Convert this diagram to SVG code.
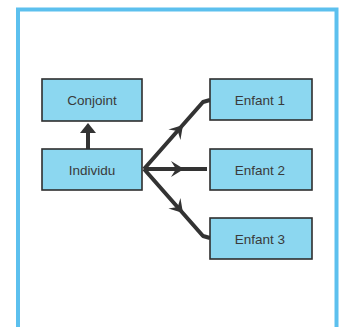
<svg xmlns="http://www.w3.org/2000/svg" width="346" height="327" viewBox="0 0 346 327">
<style>
.box{fill:#8cd7f0;stroke:#2e2e2e;stroke-width:1.6}
.lbl{font-family:"Liberation Sans",Arial,sans-serif;font-size:13.5px;fill:#3a3a3a;text-anchor:middle;dominant-baseline:central}
.ln{fill:none;stroke:#333;stroke-width:4;stroke-linejoin:round;stroke-linecap:butt}
.ah{fill:#333}
</style>
<defs>
<path id="barb" d="M0,0 L-13,-8 L-8,0 L-13,8 Z"/>
<path id="tri" d="M0,0 L-10,-8 L-10,8 Z"/>
</defs>
<rect x="18" y="9.5" width="318.5" height="340" fill="#fff" stroke="#5cc0ee" stroke-width="4"/>
<g id="connectors">
<line class="ln" x1="88" y1="149" x2="88" y2="130"/>
<use href="#tri" class="ah" transform="translate(88,123) rotate(-90)"/>
<polyline class="ln" points="144,169 203,102 210,100"/>
<use href="#barb" class="ah" transform="translate(183,125) rotate(-48.7)"/>
<polyline class="ln" points="144,169 207,169"/>
<use href="#barb" class="ah" transform="translate(184,169)"/>
<polyline class="ln" points="144,169 203,236 210,238"/>
<use href="#barb" class="ah" transform="translate(183,213) rotate(48.7)"/>
</g>
<g id="conjoint"><rect class="box" x="42" y="79" width="100" height="42"/><text class="lbl" x="92" y="100">Conjoint</text></g>
<g id="individu"><rect class="box" x="42" y="149" width="100" height="41"/><text class="lbl" x="92" y="170">Individu</text></g>
<g id="enfant1"><rect class="box" x="210" y="79" width="102" height="41"/><text class="lbl" x="260" y="100">Enfant  1</text></g>
<g id="enfant2"><rect class="box" x="210" y="149" width="102" height="41"/><text class="lbl" x="260" y="170">Enfant  2</text></g>
<g id="enfant3"><rect class="box" x="210" y="218" width="102" height="41"/><text class="lbl" x="260" y="239">Enfant  3</text></g>
</svg>
